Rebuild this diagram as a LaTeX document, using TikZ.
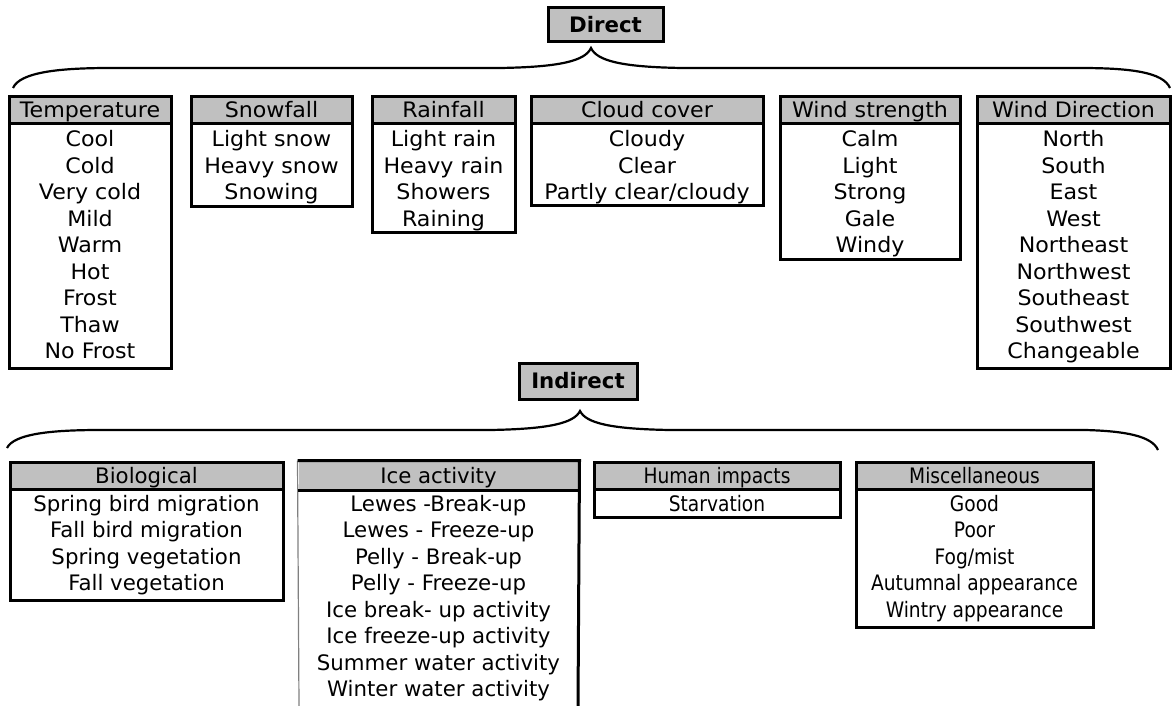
\documentclass[tikz,border=0pt]{standalone}
\usepackage{fontspec}
\setmainfont{DejaVu Sans}
\newfontfamily\fwide[FakeStretch=1.04]{DejaVu Sans}
\newfontfamily\fnarrow[FakeStretch=0.875]{DejaVu Sans}
\definecolor{hdrgray}{HTML}{C0C0C0}
\definecolor{thingray}{HTML}{808080}
\tikzset{
  frame/.style={draw=black, line width=3pt, inner sep=0pt},
  hdr/.style={draw=black, fill=hdrgray, line width=3pt, inner sep=0pt, minimum height=27pt,
    font=\fontsize{21.3}{25}\selectfont, text height=16pt, text depth=1pt},
  item/.style={inner sep=0pt, anchor=base, font=\fontsize{21.3}{25}\selectfont},
  wide/.append style={font=\fwide\fontsize{21.3}{25}\selectfont},
  narrow/.append style={font=\fnarrow\fontsize{21.3}{25}\selectfont},
  topbox/.style={draw=black, fill=hdrgray, line width=3pt, inner sep=0pt,
    font=\bfseries\fontsize{21.3}{25}\selectfont, text height=16pt, text depth=1pt},
  bracel/.style={line width=2.2pt, black}
}
\begin{document}
\begin{tikzpicture}[x=1pt,y=-1pt]
\useasboundingbox (0,0) rectangle (1172,706);

% ---------- Direct ----------
\node[topbox, minimum width=115pt, minimum height=34pt] (direct) at (605.5,25) {Direct};
\coordinate (dtip) at (591,48);
\coordinate (dl) at (13,88);
\coordinate (dr) at (1170,88);
\draw[bracel] (dl) .. controls (20,72) and (60,68) .. (110,68) -- (500,68)
  .. controls (560,67) and (585,61) .. (dtip)
  .. controls (597,61) and (622,67) .. (682,68) -- (1080,68)
  .. controls (1130,68) and (1163,72) .. (dr);

% Temperature
\node[frame, minimum width=162pt, minimum height=244pt] (b1) at (90,246) {};
\node[hdr, wide, minimum width=162pt] (h1) at (90,110.5) {Temperature};
\foreach \t [count=\k from 0] in {Cool,Cold,Very cold,Mild,Warm,Hot,Frost,Thaw,No Frost}
  \node[item, wide] (t1-\k) at (90,{146.5+26.5*\k}) {\t};

% Snowfall
\node[frame, minimum width=161pt, minimum height=82pt] (b2) at (271.5,165) {};
\node[hdr, wide, minimum width=161pt] (h2) at (271.5,110.5) {Snowfall};
\foreach \t [count=\k from 0] in {Light snow,Heavy snow,Snowing}
  \node[item, wide] (t2-\k) at (271.5,{146.5+26.5*\k}) {\t};

% Rainfall
\node[frame, minimum width=143pt, minimum height=108pt] (b3) at (443.5,178) {};
\node[hdr, wide, minimum width=143pt] (h3) at (443.5,110.5) {Rainfall};
\foreach \t [count=\k from 0] in {Light rain,Heavy rain,Showers,Raining}
  \node[item, wide] (t3-\k) at (443.5,{146.5+26.5*\k}) {\t};

% Cloud cover
\node[frame, minimum width=232pt, minimum height=81pt] (b4) at (647,164.5) {};
\node[hdr, wide, minimum width=232pt] (h4) at (647,110.5) {Cloud cover};
\foreach \t [count=\k from 0] in {Cloudy,Clear,Partly clear/cloudy}
  \node[item, wide] (t4-\k) at (647,{146.5+26.5*\k}) {\t};

% Wind strength
\node[frame, minimum width=180pt, minimum height=135pt] (b5) at (870,191.5) {};
\node[hdr, wide, minimum width=180pt] (h5) at (870,110.5) {Wind strength};
\foreach \t [count=\k from 0] in {Calm,Light,Strong,Gale,Windy}
  \node[item, wide] (t5-\k) at (870,{146.5+26.5*\k}) {\t};

% Wind Direction
\node[frame, minimum width=193pt, minimum height=244pt] (b6) at (1073.5,246) {};
\node[hdr, wide, minimum width=193pt] (h6) at (1073.5,110.5) {Wind Direction};
\foreach \t [count=\k from 0] in {North,South,East,West,Northeast,Northwest,Southeast,Southwest,Changeable}
  \node[item, wide] (t6-\k) at (1073.5,{146.5+26.5*\k}) {\t};

% ---------- Indirect ----------
\node[topbox, minimum width=118pt, minimum height=36pt] (indirect) at (578,381) {Indirect};
\coordinate (itip) at (580,411);
\coordinate (il) at (7,448);
\coordinate (ir) at (1158,450);
\draw[bracel] (il) .. controls (14,434) and (50,430) .. (100,430) -- (490,430)
  .. controls (550,429) and (574,423) .. (itip)
  .. controls (586,423) and (610,429) .. (670,430) -- (1085,430)
  .. controls (1125,431) and (1152,436) .. (ir);

% Biological
\node[frame, minimum width=273pt, minimum height=111pt] (c1) at (146.5,544.5) {};
\node[hdr, minimum width=273pt] (g1) at (146.5,475.5) {Biological};
\foreach \t [count=\k from 0] in {Spring bird migration,Fall bird migration,Spring vegetation,Fall vegetation}
  \node[item] (u1-\k) at (146.5,{511+26.5*\k}) {\t};

% Ice activity
\node[hdr, draw=none, minimum width=279pt] (g2) at (438.5,475.5) {Ice activity};
\coordinate (c2bl) at (299,706);
\coordinate (c2br) at (578,706);
\draw[thingray, line width=1.2pt] (g2.north west) -- (c2bl);
\draw[black, line width=3pt] (g2.north west) -- (g2.north east) -- (c2br);
\draw[black, line width=3pt] (g2.south west) -- (g2.south east);
\foreach \t [count=\k from 0] in {Lewes -Break-up,Lewes - Freeze-up,Pelly - Break-up,Pelly - Freeze-up,Ice break- up activity,Ice freeze-up activity,Summer water activity,Winter water activity}
  \node[item] (u2-\k) at (438.5,{511+26.5*\k}) {\t};

% Human impacts
\node[frame, minimum width=246pt, minimum height=28pt] (c3) at (717,503) {};
\node[hdr, narrow, minimum width=246pt] (g3) at (717,475.5) {Human impacts};
\foreach \t [count=\k from 0] in {Starvation}
  \node[item, narrow] (u3-\k) at (717,{511+26.5*\k}) {\t};

% Miscellaneous
\node[frame, minimum width=237pt, minimum height=138pt] (c4) at (974.5,558) {};
\node[hdr, narrow, minimum width=237pt] (g4) at (974.5,475.5) {Miscellaneous};
\foreach \t [count=\k from 0] in {Good,Poor,Fog/mist,Autumnal appearance,Wintry appearance}
  \node[item, narrow] (u4-\k) at (974.5,{511+26.5*\k}) {\t};

\end{tikzpicture}
\end{document}
